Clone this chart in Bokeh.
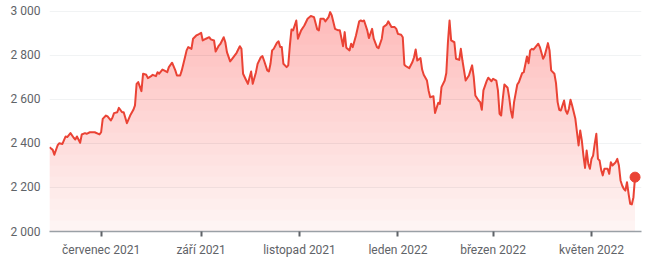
import numpy as np
import pandas as pd
from bokeh.plotting import figure
from bokeh.models import Range1d, FixedTicker
from bokeh.embed import file_html
from bokeh.resources import INLINE

dates = [
    "2021-05-30", "2021-06-01", "2021-06-02", "2021-06-04", "2021-06-05", "2021-06-07", "2021-06-09",
    "2021-06-10", "2021-06-12", "2021-06-14", "2021-06-15", "2021-06-16", "2021-06-18", "2021-06-19",
    "2021-06-21", "2021-06-22", "2021-06-24", "2021-06-27", "2021-06-30", "2021-07-01", "2021-07-02",
    "2021-07-04", "2021-07-05", "2021-07-07", "2021-07-08", "2021-07-09", "2021-07-11", "2021-07-12",
    "2021-07-14", "2021-07-15", "2021-07-17", "2021-07-19", "2021-07-21", "2021-07-22", "2021-07-23",
    "2021-07-24", "2021-07-26", "2021-07-27", "2021-07-29", "2021-07-30", "2021-08-01", "2021-08-02",
    "2021-08-04", "2021-08-05", "2021-08-06", "2021-08-08", "2021-08-09", "2021-08-11", "2021-08-12",
    "2021-08-14", "2021-08-16", "2021-08-17", "2021-08-19", "2021-08-20", "2021-08-22", "2021-08-23",
    "2021-08-24", "2021-08-26", "2021-08-27", "2021-08-29", "2021-08-30", "2021-09-01", "2021-09-02",
    "2021-09-04", "2021-09-06", "2021-09-07", "2021-09-09", "2021-09-10", "2021-09-12", "2021-09-13",
    "2021-09-15", "2021-09-16", "2021-09-17", "2021-09-19", "2021-09-20", "2021-09-23", "2021-09-25",
    "2021-09-26", "2021-09-27", "2021-09-29", "2021-09-30", "2021-10-02", "2021-10-03", "2021-10-05",
    "2021-10-06", "2021-10-08", "2021-10-09", "2021-10-10", "2021-10-12", "2021-10-13", "2021-10-14",
    "2021-10-15", "2021-10-16", "2021-10-18", "2021-10-19", "2021-10-20", "2021-10-21", "2021-10-22",
    "2021-10-24", "2021-10-25", "2021-10-26", "2021-10-27", "2021-10-28", "2021-10-29", "2021-10-30",
    "2021-10-31", "2021-11-02", "2021-11-04", "2021-11-06", "2021-11-08", "2021-11-10", "2021-11-12",
    "2021-11-13", "2021-11-14", "2021-11-16", "2021-11-17", "2021-11-19", "2021-11-20", "2021-11-21",
    "2021-11-23", "2021-11-25", "2021-11-26", "2021-11-28", "2021-11-29", "2021-11-30", "2021-12-02",
    "2021-12-03", "2021-12-04", "2021-12-06", "2021-12-08", "2021-12-09", "2021-12-10", "2021-12-11",
    "2021-12-13", "2021-12-14", "2021-12-16", "2021-12-17", "2021-12-19", "2021-12-20", "2021-12-22",
    "2021-12-23", "2021-12-25", "2021-12-26", "2021-12-28", "2021-12-30", "2021-12-31", "2022-01-01",
    "2022-01-03", "2022-01-04", "2022-01-05", "2022-01-06", "2022-01-08", "2022-01-10", "2022-01-11",
    "2022-01-12", "2022-01-13", "2022-01-15", "2022-01-16", "2022-01-17", "2022-01-19", "2022-01-20",
    "2022-01-21", "2022-01-23", "2022-01-24", "2022-01-26", "2022-01-27", "2022-01-28", "2022-01-30",
    "2022-01-31", "2022-02-01", "2022-02-02", "2022-02-03", "2022-02-05", "2022-02-06", "2022-02-08",
    "2022-02-09", "2022-02-10", "2022-02-12", "2022-02-14", "2022-02-15", "2022-02-16", "2022-02-17",
    "2022-02-18", "2022-02-20", "2022-02-21", "2022-02-22", "2022-02-23", "2022-02-25", "2022-02-26",
    "2022-02-28", "2022-03-01", "2022-03-03", "2022-03-04", "2022-03-05", "2022-03-06", "2022-03-07",
    "2022-03-08", "2022-03-10", "2022-03-11", "2022-03-12", "2022-03-13", "2022-03-14", "2022-03-16",
    "2022-03-17", "2022-03-19", "2022-03-20", "2022-03-22", "2022-03-23", "2022-03-24", "2022-03-25",
    "2022-03-26", "2022-03-28", "2022-03-29", "2022-03-30", "2022-04-01", "2022-04-02", "2022-04-04",
    "2022-04-05", "2022-04-06", "2022-04-08", "2022-04-09", "2022-04-10", "2022-04-11", "2022-04-12",
    "2022-04-14", "2022-04-15", "2022-04-16", "2022-04-17", "2022-04-18", "2022-04-19", "2022-04-21",
    "2022-04-22", "2022-04-23", "2022-04-24", "2022-04-25", "2022-04-26", "2022-04-27", "2022-04-28",
    "2022-04-29", "2022-04-30", "2022-05-01", "2022-05-02", "2022-05-03", "2022-05-04", "2022-05-05",
    "2022-05-06", "2022-05-07", "2022-05-08", "2022-05-09", "2022-05-11", "2022-05-12", "2022-05-13",
    "2022-05-14", "2022-05-16", "2022-05-17", "2022-05-18", "2022-05-19", "2022-05-20", "2022-05-21",
    "2022-05-22", "2022-05-23", "2022-05-24", "2022-05-25", "2022-05-26", "2022-05-27", "2022-05-28",
]

prices = [
    2383, 2371, 2349, 2391, 2401, 2398, 2432,
    2429, 2447, 2426, 2418, 2432, 2403, 2441,
    2447, 2444, 2451, 2451, 2441, 2451, 2512,
    2527, 2523, 2505, 2517, 2538, 2542, 2562,
    2542, 2542, 2492, 2527, 2553, 2573, 2671,
    2679, 2638, 2717, 2712, 2697, 2706, 2712,
    2706, 2724, 2717, 2736, 2732, 2724, 2747,
    2767, 2732, 2709, 2709, 2732, 2792, 2823,
    2838, 2830, 2876, 2891, 2894, 2903, 2868,
    2876, 2883, 2873, 2868, 2818, 2845, 2853,
    2883, 2860, 2815, 2773, 2782, 2812, 2842,
    2830, 2717, 2686, 2671, 2727, 2671, 2724,
    2762, 2792, 2797, 2777, 2732, 2727, 2762,
    2823, 2830, 2858, 2864, 2838, 2838, 2762,
    2747, 2755, 2845, 2918, 2914, 2936, 2959,
    2876, 2914, 2936, 2967, 2979, 2974, 2918,
    2914, 2967, 2967, 2955, 2974, 2997, 2982,
    2921, 2914, 2914, 2842, 2906, 2835, 2823,
    2853, 2838, 2891, 2955, 2959, 2955, 2959,
    2914, 2879, 2921, 2876, 2838, 2833, 2876,
    2929, 2940, 2955, 2929, 2929, 2921, 2898,
    2894, 2883, 2758, 2751, 2742, 2770, 2792,
    2827, 2777, 2788, 2736, 2712, 2686, 2641,
    2610, 2615, 2539, 2585, 2580, 2656, 2686,
    2720, 2860, 2959, 2868, 2860, 2785, 2780,
    2830, 2777, 2686, 2709, 2732, 2755, 2701,
    2618, 2595, 2588, 2553, 2641, 2683, 2699,
    2683, 2694, 2686, 2641, 2535, 2527, 2603,
    2668, 2653, 2608, 2550, 2517, 2588, 2668,
    2679, 2720, 2724, 2795, 2765, 2823, 2830,
    2827, 2845, 2853, 2838, 2785, 2800, 2856,
    2823, 2732, 2717, 2674, 2588, 2553, 2550,
    2595, 2550, 2535, 2558, 2599, 2573, 2512,
    2451, 2391, 2459, 2414, 2345, 2289, 2368,
    2308, 2285, 2330, 2345, 2398, 2444, 2330,
    2323, 2280, 2255, 2285, 2285, 2262, 2315,
    2300, 2315, 2330, 2300, 2232, 2209, 2194,
    2186, 2224, 2171, 2126, 2123, 2156, 2247,
]

x_tick_dates = ["2021-07-01", "2021-09-01", "2021-11-01", "2022-01-01", "2022-03-01", "2022-05-01"]
x_tick_labels = ["červenec 2021", "září 2021", "listopad 2021", "leden 2022", "březen 2022", "květen 2022"]
y_ticks = [2000, 2200, 2400, 2600, 2800, 3000]
y_tick_labels = ["2 000", "2 200", "2 400", "2 600", "2 800", "3 000"]

RED = "#ea4335"
LABEL = "#5f6368"
FONT = "Roboto"

x = pd.to_datetime(dates)
y = np.array(prices, dtype=float)

x_ms = (x.astype("int64") // 10**6).astype(float)
pad_ms = 4 * 86400000.0

p = figure(
    width=650, height=261,
    x_axis_type="datetime",
    output_backend="svg", toolbar_location=None,
    x_range=Range1d(x_ms[0], x_ms[-1] + pad_ms),
    y_range=Range1d(2000, 3027),
    min_border_left=49, min_border_right=9, min_border_top=5, min_border_bottom=30,
    background_fill_color="white", border_fill_color="white",
)
p.outline_line_color = None

# gradient-like fill below the line (stacked translucent layers)
p.varea(x=x_ms, y1=2000, y2=y, fill_color=RED, fill_alpha=0.045)
levels = np.linspace(2000, 3000, 21)[:-1]
for t in levels:
    p.varea(x=x_ms, y1=t, y2=np.maximum(y, t), fill_color=RED, fill_alpha=0.015)

p.line(x_ms, y, line_color=RED, line_width=2, line_join="round")
p.scatter([x_ms[-1]], [y[-1]], size=10, fill_color=RED, line_color=RED)

# x axis
tick_ms = [float(pd.Timestamp(d).value // 10**6) for d in x_tick_dates]
p.xaxis.ticker = FixedTicker(ticks=tick_ms)
p.xaxis.major_label_overrides = {t: lab for t, lab in zip(tick_ms, x_tick_labels)}
p.xaxis.axis_line_color = "#9aa0a6"
p.xaxis.axis_line_width = 1.5
p.xaxis.major_tick_line_color = "#5f6368"
p.xaxis.major_tick_line_width = 2
p.xaxis.major_tick_in = 0
p.xaxis.major_tick_out = 5
p.xaxis.minor_tick_line_color = None
p.xaxis.major_label_standoff = 6
p.xaxis.major_label_text_font = FONT
p.xaxis.major_label_text_font_size = "12px"
p.xaxis.major_label_text_color = LABEL

# y axis
p.yaxis.ticker = FixedTicker(ticks=y_ticks)
p.yaxis.major_label_overrides = {t: lab for t, lab in zip(y_ticks, y_tick_labels)}
p.yaxis.axis_line_color = None
p.yaxis.major_tick_line_color = None
p.yaxis.minor_tick_line_color = None
p.yaxis.major_tick_in = 0
p.yaxis.major_tick_out = 0
p.yaxis.major_label_standoff = 9
p.yaxis.major_label_text_font = FONT
p.yaxis.major_label_text_font_size = "12px"
p.yaxis.major_label_text_color = LABEL

p.xgrid.visible = False
p.ygrid.grid_line_color = "#f1f3f4"
p.ygrid.grid_line_width = 1

open("out.html", "w").write(file_html(p, INLINE))
